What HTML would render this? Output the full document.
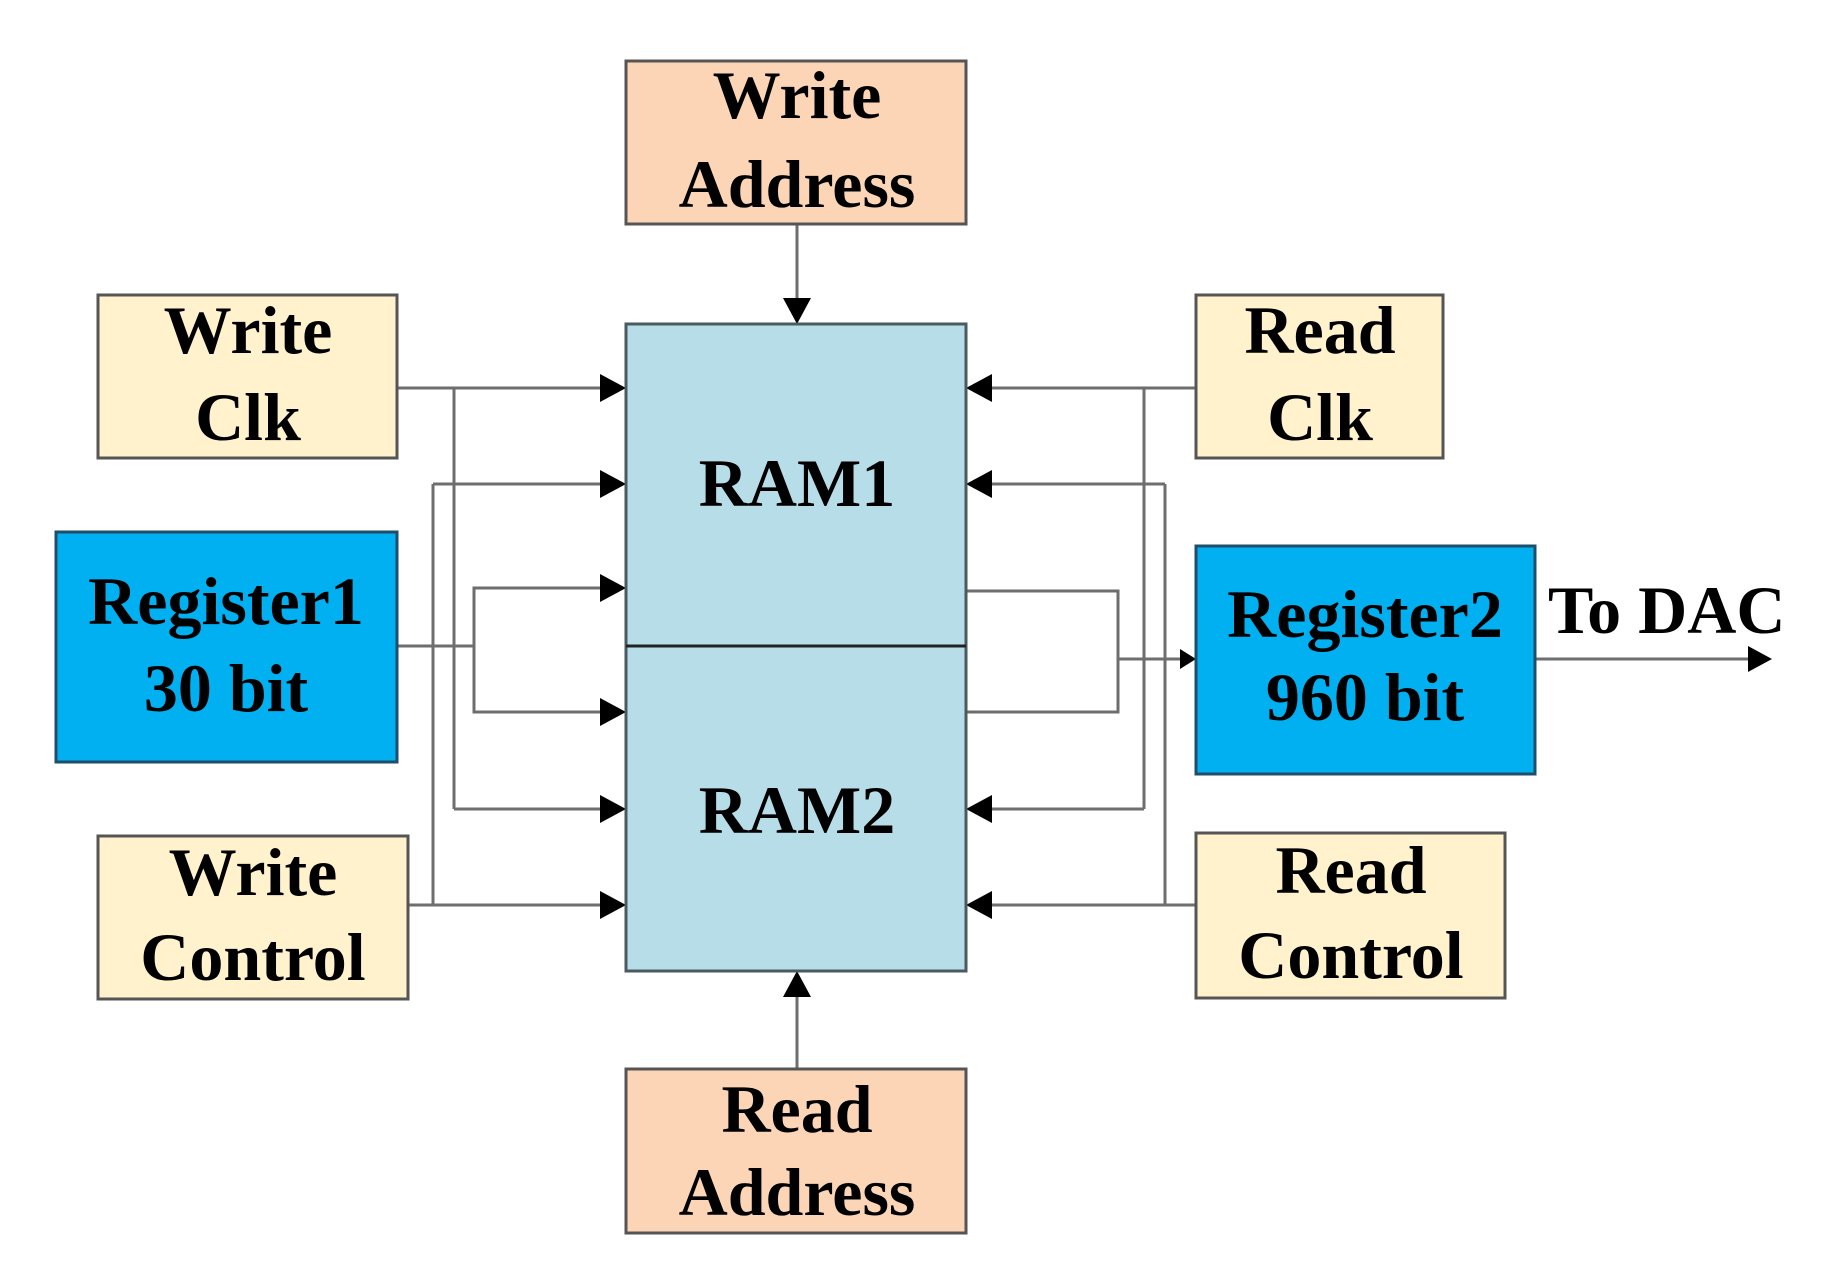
<!DOCTYPE html>
<html><head><style>html,body{margin:0;padding:0;background:#fff}svg{display:block}</style></head>
<body>
<svg width="1841" height="1271" viewBox="0 0 1841 1271" xmlns="http://www.w3.org/2000/svg" font-family="'Liberation Serif',serif" font-weight="bold" font-size="68" text-anchor="middle">
<defs>
<marker id="a" markerWidth="10" markerHeight="10" refX="9" refY="5" orient="auto" markerUnits="userSpaceOnUse" viewBox="0 0 10 10"><path d="M0,0 L10,5 L0,10 z" fill="#000"/></marker>
</defs>
<g stroke="#6e6e6e" stroke-width="3" fill="none">
<!-- left -->
<line x1="397" y1="388" x2="600" y2="388"/>
<line x1="454" y1="388" x2="454" y2="809"/>
<line x1="454" y1="809" x2="600" y2="809"/>
<line x1="408" y1="905" x2="600" y2="905"/>
<line x1="433" y1="484" x2="433" y2="905"/>
<line x1="433" y1="484" x2="600" y2="484"/>
<line x1="397" y1="646" x2="474" y2="646"/>
<polyline points="600,588 474,588 474,712 600,712"/>
<!-- right -->
<line x1="1196" y1="388" x2="992" y2="388"/>
<line x1="1144" y1="388" x2="1144" y2="809"/>
<line x1="1144" y1="809" x2="992" y2="809"/>
<line x1="1196" y1="905" x2="992" y2="905"/>
<line x1="1165" y1="484" x2="1165" y2="905"/>
<line x1="1165" y1="484" x2="992" y2="484"/>
<polyline points="966,591 1118,591 1118,712 966,712"/>
<line x1="1118" y1="659" x2="1180" y2="659"/>
<line x1="1535" y1="659" x2="1750" y2="659"/>
<line x1="797" y1="224" x2="797" y2="298"/>
<line x1="797" y1="1069" x2="797" y2="997"/>
</g>
<g fill="#000">
<!-- left arrows -->
<path d="M600,374 L626,388 L600,402z"/><path d="M600,470 L626,484 L600,498z"/><path d="M600,574 L626,588 L600,602z"/><path d="M600,698 L626,712 L600,726z"/><path d="M600,795 L626,809 L600,823z"/><path d="M600,891 L626,905 L600,919z"/>
<!-- right arrows -->
<path d="M992,374 L966,388 L992,402z"/><path d="M992,470 L966,484 L992,498z"/><path d="M992,795 L966,809 L992,823z"/><path d="M992,891 L966,905 L992,919z"/>
<path d="M1180,649 L1196,659 L1180,669z"/>
<path d="M1748,646 L1772,659 L1748,672z"/>
<path d="M783,298 L797,324 L811,298z"/>
<path d="M783,997 L797,971 L811,997z"/>
</g>
<g stroke="#555" stroke-width="3">
<rect x="626" y="61" width="340" height="163" fill="#fbd5b5"/>
<rect x="626" y="1069" width="340" height="164" fill="#fbd5b5"/>
<rect x="626" y="324" width="340" height="647" fill="#b7dde8" stroke="#4a5a60"/>
<rect x="98" y="295" width="299" height="163" fill="#fff2cc"/>
<rect x="98" y="836" width="310" height="163" fill="#fff2cc"/>
<rect x="1196" y="295" width="247" height="163" fill="#fff2cc"/>
<rect x="1196" y="833" width="309" height="165" fill="#fff2cc"/>
<rect x="56" y="532" width="341" height="230" fill="#00b0f0" stroke="#1f4e6b"/>
<rect x="1196" y="546" width="339" height="228" fill="#00b0f0" stroke="#1f4e6b"/>
</g>
<line x1="626" y1="646" x2="966" y2="646" stroke="#222" stroke-width="3"/>
<g fill="#000">
<text x="797" y="118">Write</text><text x="797" y="207">Address</text>
<text x="797" y="1132">Read</text><text x="797" y="1215">Address</text>
<text x="797" y="506">RAM1</text><text x="797" y="833">RAM2</text>
<text x="248" y="353">Write</text><text x="248" y="440">Clk</text>
<text x="253" y="895">Write</text><text x="253" y="980">Control</text>
<text x="1320" y="353">Read</text><text x="1320" y="440">Clk</text>
<text x="1351" y="893">Read</text><text x="1351" y="978">Control</text>
<text x="226" y="624">Register1</text><text x="226" y="711">30 bit</text>
<text x="1365" y="637">Register2</text><text x="1365" y="720">960 bit</text>
<text x="1548" y="633" text-anchor="start">To DAC</text>
</g>
</svg>
</body></html>
